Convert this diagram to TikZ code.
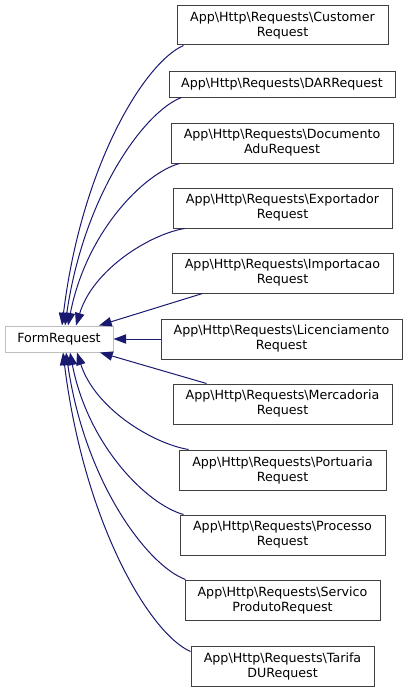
\documentclass[tikz,border=0pt]{standalone}
\usepackage{fontspec}
\newfontfamily\dejavu{DejaVu Sans}
\usetikzlibrary{arrows.meta}
\definecolor{edgeblue}{RGB}{25,25,112}
\definecolor{boxgray}{RGB}{64,64,64}
\definecolor{basegray}{RGB}{191,191,191}
\tikzset{
  cls/.style={draw=boxgray, line width=0.75pt, fill=white, inner sep=0pt, align=center,
    font=\dejavu\fontsize{9.5pt}{11.25pt}\selectfont},
  base/.style={cls, draw=basegray},
  sz/.style 2 args={minimum width=#1*0.75pt, minimum height=#2*0.75pt},
  edge/.style={draw=edgeblue, line width=0.75pt, -{Triangle[length=9.5pt,width=7pt]}, fill=none},
}
\begin{document}
\begin{tikzpicture}[x=0.75pt,y=-0.75pt]
\useasboundingbox (0,0) rectangle (409,692);
\node[base, sz={108}{26}] (fr) at (59,339) {FormRequest};
\node[cls, sz={211}{39}] (cust) at (282.5,25.5) {App\textbackslash Http\textbackslash Requests\textbackslash Customer\\Request};
\node[cls, sz={226}{25}] (dar) at (282,84.5) {App\textbackslash Http\textbackslash Requests\textbackslash DARRequest};
\node[cls, sz={222}{40}] (doc) at (282,143) {App\textbackslash Http\textbackslash Requests\textbackslash Documento\\AduRequest};
\node[cls, sz={219}{40}] (exp) at (282.5,208) {App\textbackslash Http\textbackslash Requests\textbackslash Exportador\\Request};
\node[cls, sz={221}{40}] (imp) at (282.5,273) {App\textbackslash Http\textbackslash Requests\textbackslash Importacao\\Request};
\node[cls, sz={241}{40}] (lic) at (281.5,339) {App\textbackslash Http\textbackslash Requests\textbackslash Licenciamento\\Request};
\node[cls, sz={219}{40}] (mer) at (282.5,404) {App\textbackslash Http\textbackslash Requests\textbackslash Mercadoria\\Request};
\node[cls, sz={207}{40}] (por) at (282.5,470) {App\textbackslash Http\textbackslash Requests\textbackslash Portuaria\\Request};
\node[cls, sz={205}{40}] (pro) at (282.5,535) {App\textbackslash Http\textbackslash Requests\textbackslash Processo\\Request};
\node[cls, sz={195}{40}] (ser) at (282.5,600) {App\textbackslash Http\textbackslash Requests\textbackslash Servico\\ProdutoRequest};
\node[cls, sz={183}{40}] (tar) at (282.5,666) {App\textbackslash Http\textbackslash Requests\textbackslash Tarifa\\DURequest};

\draw[edge] ([shift={(7,0)}]cust.south west) .. controls +(-39,17) and +(19.5,-160) .. ([shift={(3,0)}]fr.north);
\draw[edge] ([shift={(13,0)}]dar.south west) .. controls +(-37,14) and +(19,-131) .. ([shift={(6,0)}]fr.north);
\draw[edge] ([shift={(9,0)}]doc.south west) .. controls +(-36,10) and +(18,-93) .. ([shift={(9,0)}]fr.north);
\draw[edge] ([shift={(12,0)}]exp.south west) .. controls +(-35,6) and +(17,-56) .. ([shift={(17,0)}]fr.north);
\draw[edge] ([shift={(31,0)}]imp.south west) -- ([shift={(40,0)}]fr.north);
\draw[edge] (lic.west) -- (fr.east);
\draw[edge] ([shift={(34,0)}]mer.north west) -- ([shift={(41,0)}]fr.south);
\draw[edge] ([shift={(10,0)}]por.north west) .. controls +(-36,-6) and +(18,56) .. ([shift={(18,0)}]fr.south);
\draw[edge] ([shift={(4,0)}]pro.north west) .. controls +(-36.5,-10) and +(18,93) .. ([shift={(11,0)}]fr.south);
\draw[edge] ([shift={(1,0)}]ser.north west) .. controls +(-38,-14) and +(19,130) .. ([shift={(7,0)}]fr.south);
\draw[edge] ([shift={(0,6)}]tar.north west) .. controls +(-41,-18) and +(21,170) .. ([shift={(4,0)}]fr.south);
\end{tikzpicture}
\end{document}
